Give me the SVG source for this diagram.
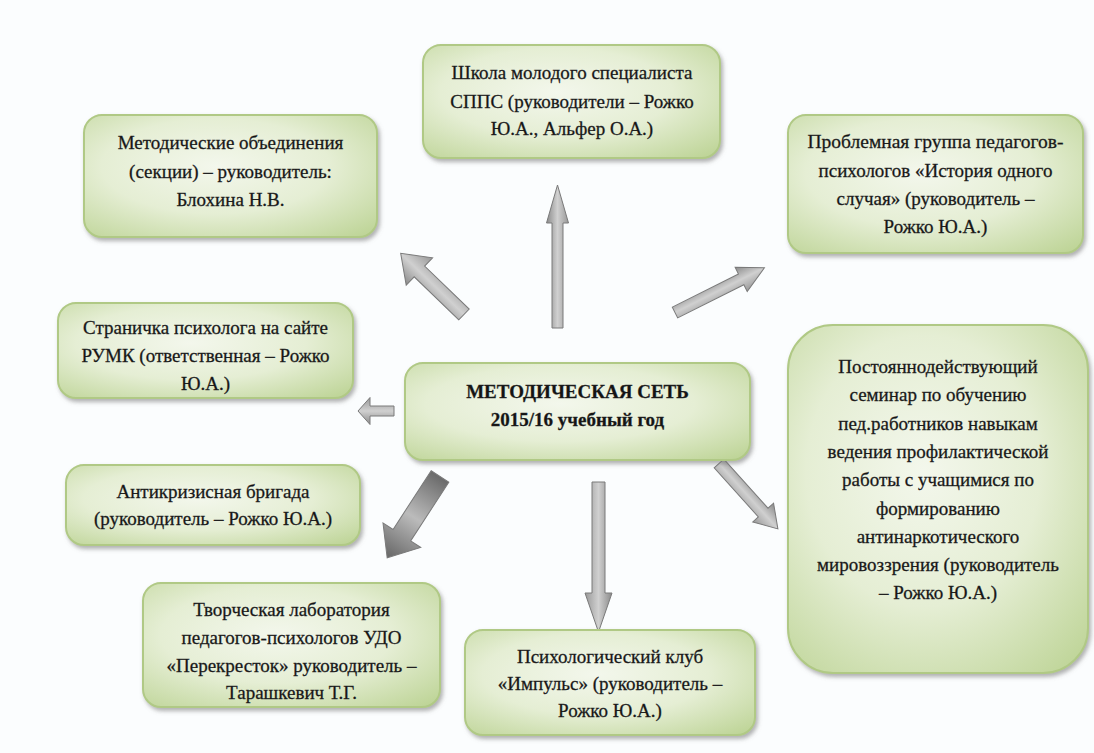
<svg xmlns="http://www.w3.org/2000/svg" width="1094" height="753" viewBox="0 0 1094 753">
<defs>
<radialGradient id="boxg" cx="0.45" cy="0.42" r="0.78">
<stop offset="0" stop-color="#f3f7ec"/>
<stop offset="0.5" stop-color="#e5eed4"/>
<stop offset="1" stop-color="#bcd394"/>
</radialGradient>
<linearGradient id="arrg" x1="0" y1="0" x2="0" y2="1">
<stop offset="0" stop-color="#8a8a8a"/>
<stop offset="0.5" stop-color="#d0d0d0"/>
<stop offset="1" stop-color="#989898"/>
</linearGradient>
<linearGradient id="arrd" x1="0" y1="0" x2="1" y2="0">
<stop offset="0" stop-color="#6a6a6a"/>
<stop offset="0.5" stop-color="#bbbbbb"/>
<stop offset="1" stop-color="#666666"/>
</linearGradient>
<filter id="sh" x="-10%" y="-10%" width="125%" height="130%">
<feDropShadow dx="2" dy="3" stdDeviation="2" flood-color="#707070" flood-opacity="0.55"/>
</filter>
<style>
.box{fill:url(#boxg);stroke:#b0c985;stroke-width:2;filter:url(#sh)}
.t{font-family:'Liberation Serif','Times New Roman',serif;font-size:19px;fill:#141414;stroke:#2a2a2a;stroke-width:0.3;text-anchor:middle}
.b{font-weight:bold}
.arr{fill:url(#arrg);stroke:#7a7a7a;stroke-width:1}
.dark{fill:url(#arrd)}
</style>
</defs>
<rect width="1094" height="753" fill="#fbfdfe"/>

<g id="connectors">
<polygon class="arr" transform="translate(557.5,328) rotate(-90)" points="0,-5.5 105,-5.5 105,-11 143,0 105,11 105,5.5 0,5.5"/>
<polygon class="arr" transform="translate(675,312.5) rotate(-26.6)" points="0,-6 74,-6 74,-13.5 100,0 74,13.5 74,6 0,6"/>
<polygon class="arr" transform="translate(464,314.5) rotate(-136)" points="0,-7.5 62,-7.5 62,-19 88,0 62,19 62,7.5 0,7.5"/>
<polygon class="arr" transform="translate(394,411) rotate(180)" points="0,-5 24,-5 24,-13.5 36,0 24,13.5 24,5 0,5"/>
<polygon class="arr dark" transform="translate(440,476.5) rotate(123)" points="0,-10.5 70,-10.5 70,-22.5 97,0 70,22.5 70,10.5 0,10.5"/>
<polygon class="arr" transform="translate(598.5,482) rotate(90)" points="0,-6.5 111,-6.5 111,-13.5 150,0 111,13.5 111,6.5 0,6.5"/>
<polygon class="arr" transform="translate(719,463.5) rotate(48)" points="0,-6.5 66,-6.5 66,-14 88,0 66,14 66,6.5 0,6.5"/>
</g>

<g id="school">
<rect class="box" x="423" y="45" width="297" height="113" rx="18"/>
<text class="t" x="572" y="79">Школа молодого специалиста</text>
<text class="t" x="572" y="108">СППС (руководители – Рожко</text>
<text class="t" x="572" y="135">Ю.А., Альфер О.А.)</text>
</g>

<g id="metod">
<rect class="box" x="84" y="115" width="293" height="122" rx="18"/>
<text class="t" x="230.5" y="149">Методические объединения</text>
<text class="t" x="230.5" y="178">(секции) – руководитель:</text>
<text class="t" x="230.5" y="206">Блохина Н.В.</text>
</g>

<g id="problem">
<rect class="box" x="788" y="115" width="295" height="138" rx="18"/>
<text class="t" x="935.5" y="148" textLength="256" lengthAdjust="spacingAndGlyphs">Проблемная группа педагогов-</text>
<text class="t" x="935.5" y="177">психологов «История одного</text>
<text class="t" x="935.5" y="205">случая» (руководитель –</text>
<text class="t" x="935.5" y="233">Рожко Ю.А.)</text>
</g>

<g id="page">
<rect class="box" x="58" y="303" width="295" height="95" rx="18"/>
<text class="t" x="205.5" y="334">Страничка психолога на сайте</text>
<text class="t" x="205.5" y="362">РУМК (ответственная – Рожко</text>
<text class="t" x="205.5" y="390">Ю.А.)</text>
</g>

<g id="center">
<rect class="box" x="405" y="363" width="345" height="97" rx="18"/>
<text class="t b" x="577.5" y="398">МЕТОДИЧЕСКАЯ СЕТЬ</text>
<text class="t b" x="577.5" y="426">2015/16 учебный год</text>
</g>

<g id="seminar">
<rect class="box" x="788" y="325" width="300" height="348" rx="45"/>
<text class="t" x="938" y="373">Постояннодействующий</text>
<text class="t" x="938" y="401">семинар по обучению</text>
<text class="t" x="938" y="430">пед.работников навыкам</text>
<text class="t" x="938" y="458">ведения профилактической</text>
<text class="t" x="938" y="486">работы с учащимися по</text>
<text class="t" x="938" y="515">формированию</text>
<text class="t" x="938" y="543">антинаркотического</text>
<text class="t" x="938" y="571">мировоззрения (руководитель</text>
<text class="t" x="938" y="599">– Рожко Ю.А.)</text>
</g>

<g id="crisis">
<rect class="box" x="66" y="465" width="294" height="80" rx="18"/>
<text class="t" x="213" y="498">Антикризисная бригада</text>
<text class="t" x="213" y="525">(руководитель – Рожко Ю.А.)</text>
</g>

<g id="lab">
<rect class="box" x="143" y="583" width="297" height="124" rx="18"/>
<text class="t" x="291.5" y="616">Творческая лаборатория</text>
<text class="t" x="291.5" y="644">педагогов-психологов УДО</text>
<text class="t" x="291.5" y="672">«Перекресток» руководитель –</text>
<text class="t" x="291.5" y="699">Тарашкевич Т.Г.</text>
</g>

<g id="club">
<rect class="box" x="465" y="630" width="290" height="105" rx="18"/>
<text class="t" x="610" y="663">Психологический клуб</text>
<text class="t" x="610" y="690">«Импульс» (руководитель –</text>
<text class="t" x="610" y="717">Рожко Ю.А.)</text>
</g>
</svg>
